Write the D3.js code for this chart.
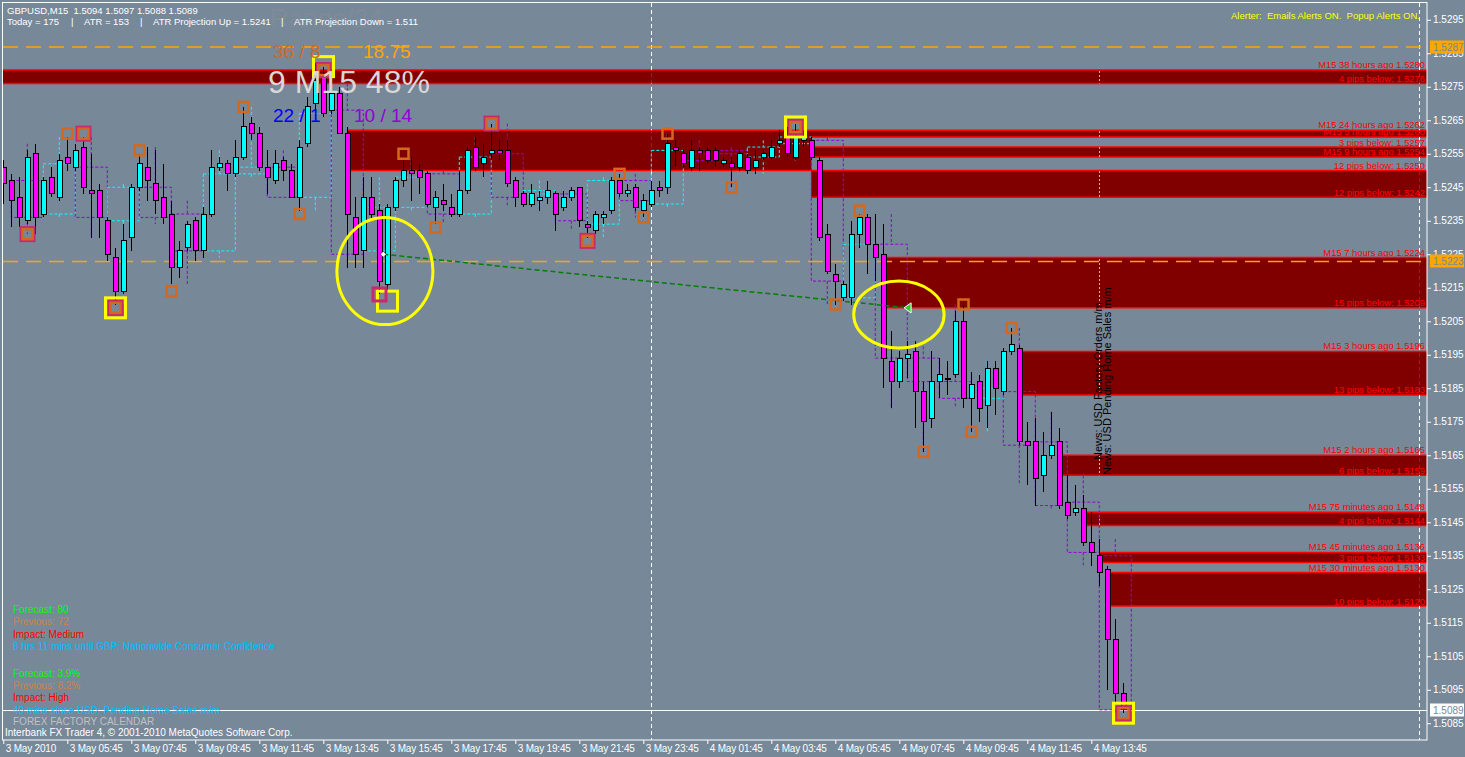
<!DOCTYPE html>
<html>
<head>
<meta charset="utf-8">
<script src="https://cdn.jsdelivr.net/npm/d3@7"></script>
<style>
body { margin: 0; background: #778899; overflow: hidden; }
svg { display: block; font-family: "Liberation Sans", Arial, sans-serif; }
</style>
</head>
<body>
<svg id="chart" width="1465" height="757"></svg>
<script>
// GBPUSD M15, bar 0 = 3 May 03:45 ... bar 140 = 4 May 14:45
const symbol = "GBPUSD";
const opens = [
  1.5251,1.5247,1.5242,1.5235,1.5255,1.5237,1.5248,1.5242,1.5254,1.5251,
  1.5257,1.5244,1.5244,1.5235,1.5224,1.5214,1.5230,1.5245,1.5251,1.5246,
  1.5242,1.5237,1.5221,1.5227,1.5235,1.5226,1.5237,1.5251,1.5252,1.5249,
  1.5254,1.5264,1.5261,1.5251,1.5247,1.5253,1.5250,1.5242,1.5258,1.5270,
  1.5278,1.5268,1.5273,1.5261,1.5236,1.5226,1.5242,1.5238,1.5216,1.5239,
  1.5247,1.5250,1.5250,1.5249,1.5239,1.5241,1.5239,1.5237,1.5244,1.5257,
  1.5252,1.5255,1.5256,1.5256,1.5247,1.5243,1.5240,1.5241,1.5242,1.5243,
  1.5239,1.5242,1.5245,1.5234,1.5232,1.5236,1.5238,1.5247,1.5243,1.5245,
  1.5238,1.5240,1.5245,1.5245,1.5257,1.5255,1.5251,1.5256,1.5256,1.5256,
  1.5252,1.5252,1.5251,1.5254,1.5251,1.5254,1.5254,1.5258,1.5260,1.5254,
  1.5259,1.5259,1.5253,1.5231,1.5219,1.5212,1.5212,1.5231,1.5236,1.5228,
  1.5225,1.5193,1.5187,1.5194,1.5196,1.5184,1.5176,1.5187,1.5188,1.5189,
  1.5205,1.5182,1.5187,1.5180,1.5191,1.5184,1.5196,1.5197,1.5169,1.5169,
  1.5159,1.5165,1.5169,1.5151,1.5148,1.5149,1.5139,1.5135,1.5131,1.5110,
  1.5094
];
const highs = [
  1.5253,1.5249,1.5248,1.5256,1.5258,1.5248,1.5251,1.5255,1.5260,1.5258,
  1.5260,1.5255,1.5246,1.5236,1.5227,1.5234,1.5246,1.5255,1.5257,1.5256,
  1.5252,1.5241,1.5229,1.5235,1.5236,1.5239,1.5256,1.5254,1.5253,1.5259,
  1.5269,1.5266,1.5263,1.5256,1.5256,1.5254,1.5252,1.5259,1.5272,1.5282,
  1.5281,1.5276,1.5275,1.5263,1.5242,1.5248,1.5248,1.5240,1.5240,1.5248,
  1.5253,1.5254,1.5252,1.5250,1.5244,1.5246,1.5243,1.5250,1.5257,1.5260,
  1.5258,1.5264,1.5259,1.5259,1.5248,1.5244,1.5246,1.5244,1.5247,1.5244,
  1.5244,1.5245,1.5245,1.5235,1.5238,1.5238,1.5248,1.5249,1.5246,1.5246,
  1.5243,1.5247,1.5247,1.5261,1.5259,1.5256,1.5259,1.5257,1.5257,1.5257,
  1.5254,1.5254,1.5256,1.5255,1.5256,1.5256,1.5259,1.5262,1.5263,1.5264,
  1.5261,1.5260,1.5254,1.5234,1.5222,1.5217,1.5235,1.5237,1.5237,1.5237,
  1.5234,1.5202,1.5196,1.5199,1.5199,1.5187,1.5196,1.5194,1.5193,1.5208,
  1.5210,1.5190,1.5189,1.5193,1.5193,1.5197,1.5203,1.5198,1.5175,1.5176,
  1.5172,1.5178,1.5173,1.5159,1.5156,1.5153,1.5148,1.5140,1.5132,1.5116,
  1.5097
];
const lows = [
  1.5240,1.5233,1.5233,1.5234,1.5231,1.5236,1.5242,1.5241,1.5250,1.5250,
  1.5243,1.5230,1.5230,1.5223,1.5210,1.5213,1.5226,1.5244,1.5241,1.5237,
  1.5234,1.5216,1.5218,1.5226,1.5223,1.5224,1.5236,1.5250,1.5244,1.5248,
  1.5253,1.5259,1.5250,1.5243,1.5246,1.5247,1.5242,1.5238,1.5257,1.5268,
  1.5266,1.5267,1.5261,1.5221,1.5221,1.5221,1.5235,1.5213,1.5214,1.5238,
  1.5245,1.5241,1.5243,1.5239,1.5234,1.5238,1.5236,1.5236,1.5243,1.5250,
  1.5248,1.5253,1.5253,1.5245,1.5239,1.5239,1.5239,1.5238,1.5240,1.5232,
  1.5238,1.5241,1.5233,1.5230,1.5231,1.5234,1.5237,1.5242,1.5242,1.5238,
  1.5236,1.5239,1.5242,1.5243,1.5251,1.5251,1.5250,1.5250,1.5252,1.5251,
  1.5251,1.5245,1.5250,1.5249,1.5249,1.5253,1.5253,1.5257,1.5254,1.5253,
  1.5257,1.5253,1.5229,1.5219,1.5210,1.5211,1.5210,1.5227,1.5219,1.5217,
  1.5185,1.5179,1.5185,1.5188,1.5173,1.5166,1.5173,1.5182,1.5183,1.5188,
  1.5179,1.5172,1.5175,1.5173,1.5177,1.5183,1.5195,1.5168,1.5156,1.5150,
  1.5154,1.5164,1.5149,1.5146,1.5147,1.5138,1.5132,1.5126,1.5095,1.5091,
  1.5088
];
const closes = [
  1.5246,1.5241,1.5236,1.5254,1.5236,1.5247,1.5243,1.5253,1.5252,1.5256,
  1.5245,1.5243,1.5236,1.5225,1.5214,1.5229,1.5245,1.5252,1.5247,1.5241,
  1.5236,1.5221,1.5226,1.5234,1.5226,1.5237,1.5251,1.5252,1.5249,1.5254,
  1.5263,1.5261,1.5251,1.5248,1.5252,1.5250,1.5242,1.5257,1.5269,1.5277,
  1.5267,1.5273,1.5261,1.5237,1.5225,1.5242,1.5237,1.5217,1.5239,1.5247,
  1.5250,1.5249,1.5248,1.5240,1.5242,1.5240,1.5237,1.5244,1.5256,1.5251,
  1.5254,1.5256,1.5255,1.5246,1.5242,1.5240,1.5243,1.5242,1.5244,1.5237,
  1.5242,1.5244,1.5235,1.5233,1.5237,1.5237,1.5247,1.5243,1.5244,1.5239,
  1.5241,1.5244,1.5244,1.5258,1.5256,1.5252,1.5256,1.5255,1.5253,1.5253,
  1.5253,1.5251,1.5255,1.5250,1.5253,1.5255,1.5257,1.5259,1.5255,1.5260,
  1.5260,1.5254,1.5230,1.5220,1.5217,1.5216,1.5231,1.5236,1.5228,1.5224,
  1.5194,1.5187,1.5194,1.5195,1.5184,1.5175,1.5187,1.5189,1.5188,1.5205,
  1.5182,1.5186,1.5179,1.5191,1.5185,1.5196,1.5198,1.5169,1.5168,1.5158,
  1.5165,1.5168,1.5150,1.5147,1.5149,1.5139,1.5136,1.5130,1.5110,1.5094,
  1.5089
];

const xTickBars = [0, 8, 16, 24, 32, 40, 48, 56, 64, 72, 80, 88, 96, 104, 112, 120, 128, 136];
const xTickLabels = ["3 May 2010", "3 May 05:45", "3 May 07:45", "3 May 09:45", "3 May 11:45",
  "3 May 13:45", "3 May 15:45", "3 May 17:45", "3 May 19:45", "3 May 21:45", "3 May 23:45",
  "4 May 01:45", "4 May 03:45", "4 May 05:45", "4 May 07:45", "4 May 09:45", "4 May 11:45", "4 May 13:45"];
const priceTicks = [1.5085, 1.5095, 1.5105, 1.5115, 1.5125, 1.5135, 1.5145, 1.5155, 1.5165, 1.5175,
  1.5185, 1.5195, 1.5205, 1.5215, 1.5225, 1.5235, 1.5245, 1.5255, 1.5265, 1.5275, 1.5285, 1.5295];

// supply zones
const zoneTops    = [1.5280, 1.5262, 1.5260, 1.5254, 1.5224, 1.5196, 1.5165, 1.5148, 1.5136, 1.5130];
const zoneBottoms = [1.5276, 1.5250, 1.5257, 1.5242, 1.5209, 1.5183, 1.5159, 1.5144, 1.5133, 1.5120];
const zoneStartBar = [-1, 43, 101, 101, 110, 127, 132, 135, 137, 138];
const zoneAge = ["38 hours", "24 hours", "5 hours", "9 hours", "7 hours", "3 hours", "2 hours",
  "75 minutes", "45 minutes", "30 minutes"];

// markers
const orangeBars = [3, 8, 10, 14, 17, 21, 30, 37, 40, 50, 54, 61, 73, 77, 80, 83, 91, 99, 104, 107, 115, 120, 121, 126, 140];
const orangePrices = [1.5231, 1.5261, 1.5261, 1.5209, 1.5256, 1.5214, 1.5269, 1.5237, 1.5280, 1.5255, 1.5233, 1.5264,
  1.5229, 1.5249, 1.5236, 1.5261, 1.5245, 1.5263, 1.5210, 1.5238, 1.5166, 1.5210, 1.5172, 1.5203, 1.5088];
const crimsonBars = [3, 10, 14, 40, 47, 61, 73, 99, 140];
const crimsonPrices = [1.5231, 1.5261, 1.5209, 1.5280, 1.5213, 1.5264, 1.5229, 1.5263, 1.5088];
const yellowBars = [14, 40, 48, 99, 140];
const yellowPrices = [1.5209, 1.5281, 1.5211, 1.5263, 1.5088];

// drawn objects
const hLinePrices = [1.5287, 1.5223];
const separatorBars = [81, 177];
const trendBars = [47.5, 113.1];
const trendPrices = [1.5225, 1.5209];
const ellipseBars = [[41.7, 53.7], [106.3, 117.6]];
const ellipsePrices = [[1.5236, 1.5204], [1.5217, 1.5197]];
const newsBar = 137;
const newsTitles = ["News: USD Factory Orders m/m", "News: USD Pending Home Sales m/m"];

const headerStats = ["Today = 175", "ATR = 153", "ATR Projection Up = 1.5241", "ATR Projection Down = 1.511"];
const calendarLines = ["Forecast: 80", "Previous: 72", "Impact: Medium",
  "8 hrs 11 mins until GBP: Nationwide Consumer Confidence", "",
  "Forecast: 3.9%", "Previous: 8.2%", "Impact: High", "40 mins since USD: Pending Home Sales m/m",
  "FOREX FACTORY CALENDAR"];

// ---------------------------------------------------------------
const L = 3, R = 1427, T = 3, B = 740;
const calendarColors = ["#00ff00", "#cd853f", "#ff0000", "#00bfff", "none",
  "#00ff00", "#cd853f", "#ff0000", "#00bfff", "#c0c0c0"];

const svg = d3.select("#chart");
const x = d3.scaleLinear().domain([0, 140]).range([3.3, 1123.3]);
const y = d3.scaleLinear().domain([1.5080, 1.5300]).range([B, T]);
const fmt = d3.format(".4f");

svg.append("rect").attr("width", 1465).attr("height", 757).attr("fill", "#778899");

const defs = svg.append("defs");
defs.append("clipPath").attr("id", "plotClip")
  .append("rect").attr("x", L).attr("y", T).attr("width", R - L).attr("height", B - T);

const zones = zoneTops.map((t, i) => ({ top: t, bot: zoneBottoms[i], start: zoneStartBar[i], age: zoneAge[i] }));
const zonePath = zones.map(z => {
  const x0 = x(z.start), y0 = y(z.top), y1 = y(z.bot);
  return `M${x0},${y0}H${R}V${y1}H${x0}Z`;
}).join("");
defs.append("clipPath").attr("id", "zoneClip")
  .append("path").attr("d", zonePath).attr("clip-rule", "evenodd");

// faint range text sits behind everything
svg.append("text").attr("x", 270).attr("y", 27).attr("font-size", "26px").attr("fill", "#7f8b98").text("Range/24");

const plot = svg.append("g").attr("clip-path", "url(#plotClip)");

// zones, overlapping parts cancel out like in the terminal
plot.append("path").attr("d", zonePath).attr("fill", "#800000").attr("fill-rule", "evenodd");
zones.forEach(z => {
  [z.top, z.bot].forEach(p => {
    plot.append("line").attr("x1", x(z.start)).attr("x2", R)
      .attr("y1", y(p)).attr("y2", y(p))
      .attr("stroke", "#ff0000").attr("stroke-width", 1.5);
  });
});

// vertical separators
separatorBars.forEach(b => {
  plot.append("line").attr("x1", Math.round(x(b)) + 0.5).attr("x2", Math.round(x(b)) + 0.5)
    .attr("y1", T).attr("y2", B).attr("stroke", "#ffffff").attr("stroke-dasharray", "4,3");
  plot.append("line").attr("clip-path", "url(#zoneClip)")
    .attr("x1", Math.round(x(b)) + 0.5).attr("x2", Math.round(x(b)) + 0.5)
    .attr("y1", T).attr("y2", B).attr("stroke", "#3d4a3d").attr("stroke-dasharray", "4,3");
});
plot.append("line").attr("clip-path", "url(#zoneClip)")
  .attr("x1", Math.round(x(newsBar)) + 0.5).attr("x2", Math.round(x(newsBar)) + 0.5)
  .attr("y1", T).attr("y2", B).attr("stroke", "#c8c86e").attr("stroke-dasharray", "2,2");

// horizontal lines
hLinePrices.forEach(p => {
  plot.append("line").attr("x1", L).attr("x2", R).attr("y1", y(p) + 0.5).attr("y2", y(p) + 0.5)
    .attr("stroke", "#ffa500").attr("stroke-width", 1.5).attr("stroke-dasharray", "15,8");
});
const last = closes.length - 1;
plot.append("line").attr("x1", L).attr("x2", R)
  .attr("y1", Math.round(y(closes[last])) + 0.5).attr("y2", Math.round(y(closes[last])) + 0.5)
  .attr("stroke", "#ffffff");

// H1 candles drawn as dashed boxes
const hours = [];
for (let k = 1; k + 3 <= last; k += 4) {
  const o = opens[k], c = closes[k + 3];
  const h = d3.max(highs.slice(k, k + 4)), l = d3.min(lows.slice(k, k + 4));
  hours.push({ k, o, c, h, l });
}
const hg = plot.append("g").attr("fill", "none").attr("stroke-dasharray", "3,2");
hours.forEach(hr => {
  const col = hr.c >= hr.o ? "#00ffff" : "#9400d3";
  const top = y(Math.max(hr.o, hr.c)), bot = y(Math.min(hr.o, hr.c));
  hg.append("rect").attr("x", x(hr.k)).attr("y", top)
    .attr("width", x(hr.k + 4) - x(hr.k)).attr("height", Math.max(1, bot - top))
    .attr("stroke", col);
  const cx = x(hr.k + 2);
  hg.append("line").attr("x1", cx).attr("x2", cx).attr("y1", y(hr.h)).attr("y2", top).attr("stroke", col);
  hg.append("line").attr("x1", cx).attr("x2", cx).attr("y1", bot).attr("y2", y(hr.l)).attr("stroke", col);
});

// candles
const candles = opens.map((o, i) => ({ i, o, h: highs[i], l: lows[i], c: closes[i] }));
const cg = plot.append("g").attr("shape-rendering", "crispEdges");
cg.selectAll("line.wick").data(candles).enter().append("line")
  .attr("x1", d => Math.round(x(d.i)) + 0.5).attr("x2", d => Math.round(x(d.i)) + 0.5)
  .attr("y1", d => y(d.h)).attr("y2", d => y(d.l)).attr("stroke", "#000");
cg.selectAll("rect.body").data(candles).enter().append("rect")
  .attr("x", d => Math.round(x(d.i)) - 2)
  .attr("y", d => y(Math.max(d.o, d.c)))
  .attr("width", 5)
  .attr("height", d => Math.max(1, y(Math.min(d.o, d.c)) - y(Math.max(d.o, d.c))))
  .attr("fill", d => d.c >= d.o ? "#00ffff" : "#ff00ff")
  .attr("stroke", "#000");

// trend line
plot.append("line").attr("x1", x(trendBars[0])).attr("y1", y(trendPrices[0]))
  .attr("x2", x(trendBars[1])).attr("y2", y(trendPrices[1]))
  .attr("stroke", "#008000").attr("stroke-width", 1.5).attr("stroke-dasharray", "5,3");
plot.append("path")
  .attr("d", `M${x(trendBars[0]) - 3},${y(trendPrices[0])}l3,-3l3,3l-3,3z`)
  .attr("fill", "#ffffff").attr("stroke", "#000").attr("stroke-width", 0.5);
plot.append("path")
  .attr("d", `M${x(trendBars[1]) - 4},${y(trendPrices[1])}l7,-5v10z`)
  .attr("fill", "#32cd32").attr("stroke", "#ffffff").attr("stroke-width", 1);

// ellipses
ellipseBars.forEach((bb, i) => {
  const pp = ellipsePrices[i];
  plot.append("ellipse")
    .attr("cx", (x(bb[0]) + x(bb[1])) / 2).attr("cy", (y(pp[0]) + y(pp[1])) / 2)
    .attr("rx", (x(bb[1]) - x(bb[0])) / 2).attr("ry", (y(pp[1]) - y(pp[0])) / 2)
    .attr("fill", "none").attr("stroke", "#ffff00").attr("stroke-width", 3);
});

// square markers
function squares(bars, prices, size, color, width) {
  plot.append("g").selectAll("rect").data(bars).enter().append("rect")
    .attr("x", (d) => Math.round(x(d)) + 0.5 - size / 2)
    .attr("y", (d, i) => y(prices[i]) - size / 2)
    .attr("width", size).attr("height", size)
    .attr("fill", "none").attr("stroke", color).attr("stroke-width", width);
}
squares(yellowBars, yellowPrices, 20, "#ffff00", 3);
squares(crimsonBars, crimsonPrices, 13, "#c8286e", 3);
squares(orangeBars, orangePrices, 10, "#d2691e", 2.5);

// zone labels
const zl = svg.append("g").attr("fill", "#ff0000").attr("font-size", "9.4px").attr("text-anchor", "end");
zones.forEach(z => {
  zl.append("text").attr("x", 1425).attr("y", y(z.top) - 2)
    .text(`M15 ${z.age} ago ${fmt(z.top)}`);
  zl.append("text").attr("x", 1425).attr("y", y(z.bot) - 1.5)
    .text(`${Math.round((z.top - z.bot) * 10000)} pips below: ${fmt(z.bot)}`);
});

// news titles (vertical)
newsTitles.forEach((t, i) => {
  const bx = Math.round(x(newsBar)) + 3 + i * 9, by = 460 + i * 15;
  svg.append("text").attr("transform", `translate(${bx},${by}) rotate(-90)`)
    .attr("font-size", "11px").attr("fill", "#000").text(t);
});

// header texts
svg.append("text").attr("x", 7).attr("y", 14).attr("font-size", "9.5px").attr("fill", "#fff")
  .attr("xml:space", "preserve")
  .text(`${symbol},M15  ${fmt(opens[last])} ${fmt(highs[last])} ${fmt(lows[last])} ${fmt(closes[last])}`);
const statX = [7, 84, 153, 294];
headerStats.forEach((s, i) => {
  svg.append("text").attr("x", statX[i]).attr("y", 25).attr("font-size", "9.5px").attr("fill", "#fff").text(s);
  if (i > 0) svg.append("text").attr("x", statX[i] - 13).attr("y", 25).attr("font-size", "9.5px").attr("fill", "#fff").text("|");
});
svg.append("text").attr("x", 273).attr("y", 58).attr("font-size", "19px").attr("fill", "#d2691e").text("36 / 8");
svg.append("text").attr("x", 363).attr("y", 58).attr("font-size", "19px").attr("fill", "#ffa500").text("18.75");
svg.append("text").attr("x", 268).attr("y", 93).attr("font-size", "32px").attr("fill", "#d8d8d8").text("9 M15 48%");
svg.append("text").attr("x", 273).attr("y", 122).attr("font-size", "19px").attr("fill", "#0000ff").text("22 / 1");
svg.append("text").attr("x", 354).attr("y", 122).attr("font-size", "19px").attr("fill", "#9400d3").text("10 / 14");
svg.append("text").attr("x", 1420).attr("y", 19).attr("font-size", "9.5px").attr("fill", "#ffff00")
  .attr("text-anchor", "end").attr("xml:space", "preserve")
  .text("Alerter:  Emails Alerts ON.  Popup Alerts ON.");

// calendar block
const calY = [612.5, 625, 637.5, 649.5, 661.5, 676.5, 688.5, 701, 713.5, 724.5];
calendarLines.forEach((t, i) => {
  if (!t) return;
  svg.append("text").attr("x", 13).attr("y", calY[i]).attr("font-size", "10px")
    .attr("fill", calendarColors[i]).text(t);
});
svg.append("text").attr("x", 5).attr("y", 736).attr("font-size", "10px").attr("fill", "#fff")
  .text("Interbank FX Trader 4, \u00a9 2001-2010 MetaQuotes Software Corp.");

// frame and axes
svg.append("rect").attr("x", 2.5).attr("y", 2.5).attr("width", R - 2.5).attr("height", B - 2.5)
  .attr("fill", "none").attr("stroke", "#fff");

const gx = svg.append("g").attr("transform", `translate(0,${B})`)
  .call(d3.axisBottom(x).tickValues(xTickBars).tickFormat((d, i) => xTickLabels[i]).tickSize(4));
gx.select(".domain").remove();
gx.selectAll("line").attr("stroke", "#fff");
gx.selectAll("text").attr("fill", "#fff").attr("font-size", "10px").attr("font-family", "Liberation Sans, Arial")
  .attr("text-anchor", "start").attr("x", 2).attr("y", 5).attr("letter-spacing", "-0.2px");

const gy = svg.append("g").attr("transform", `translate(${R},0)`)
  .call(d3.axisRight(y).tickValues(priceTicks).tickFormat(fmt).tickSize(4).tickPadding(2));
gy.select(".domain").remove();
gy.selectAll("line").attr("stroke", "#fff");
gy.selectAll("text").attr("fill", "#fff").attr("font-size", "10px").attr("font-family", "Liberation Sans, Arial");

// price tags on the axis
const tags = hLinePrices.map(p => ({ p, bg: "#ffa500" })).concat([{ p: closes[last], bg: "#ffffff" }]);
tags.forEach(t => {
  const ty = Math.round(y(t.p));
  svg.append("rect").attr("x", 1430).attr("y", ty - 6.5).attr("width", 34).attr("height", 13).attr("fill", t.bg);
  svg.append("text").attr("x", 1433).attr("y", ty + 3.5).attr("font-size", "10px")
    .attr("fill", "#778899").text(fmt(t.p));
});
</script>
</body>
</html>
